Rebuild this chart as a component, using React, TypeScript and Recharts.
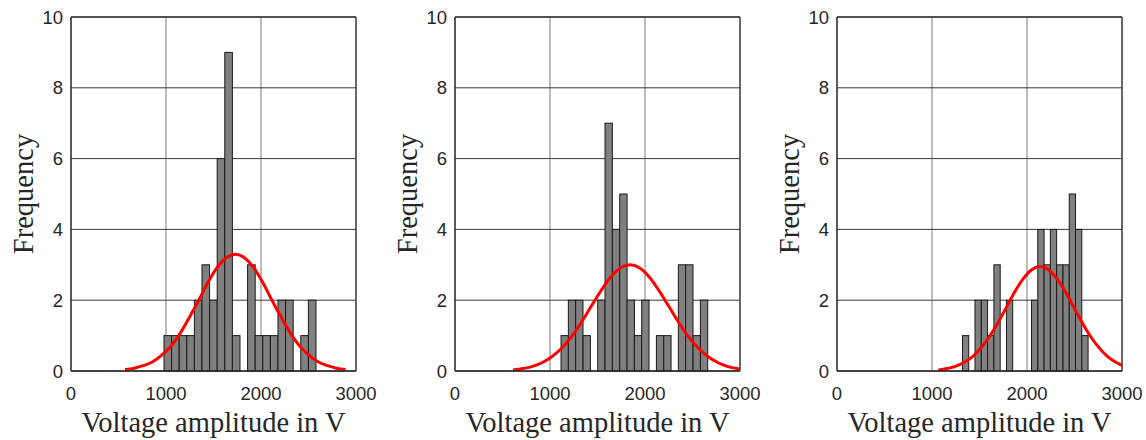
import {
  ComposedChart,
  Bar,
  Line,
  XAxis,
  YAxis,
  CartesianGrid,
  ReferenceLine,
  Label,
} from "recharts"

// ─── Data ──────────────────────────────────────────────────────────────────────

const xTicks = [0, 1000, 2000, 3000]
const yTicks = [0, 2, 4, 6, 8, 10]

// panel 1 histogram (bin width ~80 V)
const binCenters1 = [1019, 1099, 1179, 1259, 1339, 1419, 1499, 1579, 1659, 1739, 1819, 1899, 1979, 2059, 2139, 2219, 2299, 2379, 2459, 2539]
const counts1 = [1, 1, 1, 1, 2, 3, 2, 6, 9, 1, 0, 3, 1, 1, 1, 2, 2, 0, 1, 2]
const fitX1 = [570, 665, 760, 860, 955, 1055, 1150, 1245, 1345, 1440, 1535, 1635, 1730, 1825, 1925, 2020, 2115, 2215, 2310, 2405, 2505, 2600, 2700, 2795, 2890]
const fitY1 = [0.04, 0.08, 0.15, 0.26, 0.45, 0.71, 1.07, 1.51, 2.0, 2.49, 2.91, 3.2, 3.3, 3.2, 2.91, 2.49, 2.0, 1.51, 1.07, 0.71, 0.45, 0.26, 0.15, 0.08, 0.04]

// panel 2 histogram (bin width ~77 V)
const binCenters2 = [1155, 1232, 1309, 1387, 1464, 1541, 1618, 1695, 1773, 1850, 1927, 2004, 2081, 2159, 2236, 2313, 2390, 2467, 2545, 2622]
const counts2 = [1, 2, 2, 1, 0, 2, 7, 4, 5, 2, 1, 2, 0, 1, 1, 0, 3, 3, 1, 2]
const fitX2 = [612, 715, 817, 920, 1022, 1125, 1227, 1330, 1432, 1535, 1637, 1740, 1842, 1945, 2047, 2150, 2252, 2355, 2457, 2560, 2662, 2765, 2867, 2970, 3000]
const fitY2 = [0.03, 0.07, 0.13, 0.24, 0.41, 0.65, 0.97, 1.37, 1.82, 2.26, 2.65, 2.91, 3.0, 2.91, 2.65, 2.26, 1.82, 1.37, 0.97, 0.65, 0.41, 0.24, 0.13, 0.07, 0.06]

// panel 3 histogram (bin width ~66 V)
const binCenters3 = [1354, 1420, 1486, 1552, 1618, 1685, 1751, 1817, 1883, 1949, 2015, 2081, 2147, 2213, 2279, 2346, 2412, 2478, 2544, 2610]
const counts3 = [1, 0, 2, 2, 1, 3, 0, 2, 0, 0, 0, 2, 4, 3, 4, 3, 3, 5, 4, 1]
const fitX3 = [1067, 1156, 1245, 1335, 1424, 1513, 1602, 1692, 1781, 1870, 1959, 2049, 2138, 2227, 2316, 2406, 2495, 2584, 2673, 2763, 2852, 2941, 3000]
const fitY3 = [0.03, 0.07, 0.13, 0.24, 0.4, 0.64, 0.96, 1.35, 1.79, 2.23, 2.6, 2.86, 2.95, 2.86, 2.6, 2.23, 1.79, 1.35, 0.96, 0.64, 0.4, 0.24, 0.16]

const binWidths = [80, 77.2, 66.1]

// ─── Layout ────────────────────────────────────────────────────────────────────

const CHART_W = 380
const CHART_H = 440
const MARGIN = { top: 17, right: 24, bottom: 0, left: 31 }
const Y_AXIS_W = 40
const PLOT_W = CHART_W - MARGIN.left - MARGIN.right - Y_AXIS_W
const X_MAX = 3000

const textColor = "#262626"
const sansFont = "'Liberation Sans', Arial, sans-serif"
const serifFont = "'Liberation Serif', 'Times New Roman', serif"

// ─── Panel ─────────────────────────────────────────────────────────────────────

function HistBar(props: any) {
  const { x, width, y, height, binPx } = props
  if (!height || height <= 0) return null
  const cx = x + width / 2
  return (
    <rect
      x={cx - binPx / 2}
      y={y}
      width={binPx}
      height={height}
      fill="#808080"
      stroke="#1a1a1a"
      strokeWidth={1}
    />
  )
}

function YLabel({ viewBox }: any) {
  const cx = viewBox.x + viewBox.width - 38
  const cy = viewBox.y + viewBox.height / 2
  return (
    <text
      x={cx}
      y={cy}
      transform={`rotate(-90 ${cx} ${cy})`}
      textAnchor="middle"
      fontFamily={serifFont}
      fontSize={28.5}
      fill={textColor}
    >
      Frequency
    </text>
  )
}

function HistPanel({ centers, counts, fitX, fitY, binWidth, left }: {
  centers: number[]
  counts: number[]
  fitX: number[]
  fitY: number[]
  binWidth: number
  left: number
}) {
  const bars = centers.map((x, i) => ({ x, count: counts[i] }))
  const fit = fitX.map((x, i) => ({ x, fit: fitY[i] }))
  const binPx = (binWidth / X_MAX) * PLOT_W

  return (
    <div style={{ position: "absolute", left, top: 0 }}>
      <ComposedChart width={CHART_W} height={CHART_H} data={bars} margin={MARGIN}>
        <CartesianGrid horizontal={false} stroke="#7a7a7a" strokeWidth={1} />
        <CartesianGrid vertical={false} stroke="#3a3a3a" strokeWidth={1} />
        <XAxis
          dataKey="x"
          type="number"
          domain={[0, X_MAX]}
          ticks={xTicks}
          allowDataOverflow
          height={69}
          tickSize={0}
          tickMargin={16}
          axisLine={{ stroke: textColor, strokeWidth: 1.3 }}
          tick={{ fill: textColor, fontSize: 18.5, fontFamily: sansFont }}
        >
          <Label
            value="Voltage amplitude in V"
            position="insideBottom"
            offset={8}
            fill={textColor}
            fontSize={28.5}
            fontFamily={serifFont}
          />
        </XAxis>
        <YAxis
          type="number"
          domain={[0, 10]}
          ticks={yTicks}
          width={Y_AXIS_W}
          tickSize={0}
          tickMargin={8}
          axisLine={{ stroke: textColor, strokeWidth: 1.3 }}
          tick={{ fill: textColor, fontSize: 18.5, fontFamily: sansFont }}
        >
          <Label content={<YLabel />} />
        </YAxis>
        <ReferenceLine x={X_MAX} stroke="#3a3a3a" strokeWidth={1.3} />
        <ReferenceLine y={10} stroke="#3a3a3a" strokeWidth={1.3} />
        <Bar
          dataKey="count"
          barSize={5}
          isAnimationActive={false}
          shape={(p: any) => <HistBar {...p} binPx={binPx} />}
        />
        <Line
          data={fit}
          dataKey="fit"
          type="monotone"
          stroke="#ff0000"
          strokeWidth={3}
          dot={false}
          activeDot={false}
          isAnimationActive={false}
        />
      </ComposedChart>
    </div>
  )
}

export default function App() {
  return (
    <div style={{ position: "absolute", left: 0, top: 0, width: 1146, height: 440, background: "#fff" }}>
      <HistPanel centers={binCenters1} counts={counts1} fitX={fitX1} fitY={fitY1} binWidth={binWidths[0]} left={0} />
      <HistPanel centers={binCenters2} counts={counts2} fitX={fitX2} fitY={fitY2} binWidth={binWidths[1]} left={384} />
      <HistPanel centers={binCenters3} counts={counts3} fitX={fitX3} fitY={fitY3} binWidth={binWidths[2]} left={766} />
    </div>
  )
}
